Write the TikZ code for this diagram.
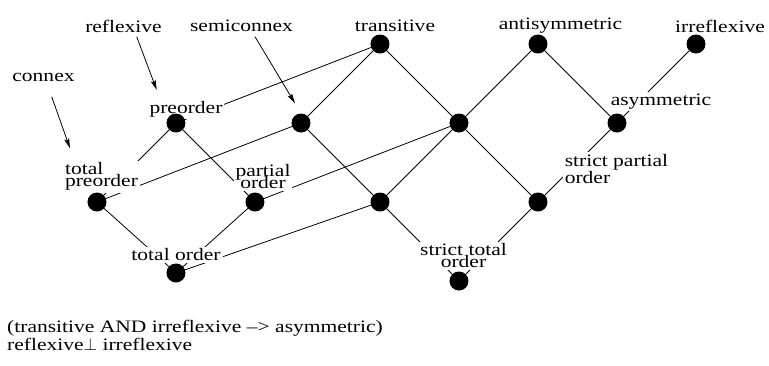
\documentclass[tikz,border=0pt]{standalone}
\usepackage{fontspec}
\setmainfont{Liberation Serif}[FakeStretch=1.23]
\usetikzlibrary{positioning,arrows.meta}
\pgfdeclarelayer{edges}
\pgfdeclarelayer{words}
\pgfsetlayers{edges,words,main}
\lineskiplimit=-20pt

\begin{document}
\begin{tikzpicture}[node distance=79pt and 79pt,on grid,
    dot/.style={circle,fill=black,inner sep=0pt,minimum size=19pt},
    prop/.style={inner sep=0pt,anchor=base,font=\fontsize{17.5}{20}\selectfont},
    lbl/.style={fill=white,inner sep=2pt,anchor=base,align=center,
      font=\fontsize{17.5}{12}\selectfont},
    pointer/.style={-{Stealth[length=10pt,width=5pt,inset=2pt]},line width=0.8pt}]
   \useasboundingbox (-380pt,44pt) rectangle (389pt,-321pt);

   % the lattice
   \node[dot] (trans) {};
   \node[dot] (anti)  [right=158pt of trans] {};
   \node[dot] (irr)   [right=158pt of anti]  {};
   \node[dot] (semi)  [below left=of trans]  {};
   \node[dot] (ta)    [below right=of trans] {};
   \node[dot] (asym)  [below right=of anti]  {};
   \node[dot] (pre)   [left=125pt of semi]   {};
   \node[dot] (tp)    [below left=of pre]    {};
   \node[dot] (po)    [below right=of pre]   {};
   \node[dot] (sta)   [below right=of semi]  {};
   \node[dot] (spo)   [below right=of ta]    {};
   \node[dot] (to)    [below=150pt of pre]   {};
   \node[dot] (sto)   [below=158pt of ta]    {};

   % properties on top
   \node[prop] (transitive)    [above right=18pt and 15pt of trans]   {transitive};
   \node[prop] (antisym)       [above right=18pt and 22.5pt of anti]  {antisymmetric};
   \node[prop] (irreflexive)   [above right=18pt and 24pt of irr]     {irreflexive};
   \node[prop] (semiconnex)    [above left=97pt and 59.5pt of semi]   {semiconnex};
   \node[prop] (reflexive)     [above left=97pt and 52.5pt of pre]    {reflexive};
   \node[prop] (connex)        [above left=125pt and 53.5pt of tp]    {connex};

   \begin{pgfonlayer}{words}
   \node[lbl] (preorder)    [above right=14pt and 10pt of pre]     {preorder};
   \node[lbl] (asymmetric)  [above right=21.3pt and 44pt of asym]  {asymmetric};
   \node[lbl,align=left] (totalpre) [above right=25.3pt and 4.5pt of tp] {total\\preorder};
   \node[lbl] (partial)     [above right=25.3pt and 8pt of po]     {partial\\order};
   \node[lbl] (totalorder)  [above=18pt of to]                     {total order};
   \node[lbl,align=left,font=\fontsize{17.5}{17.7}\selectfont] (strictpartial)
      [above right=33pt and 78.5pt of spo] {strict partial\\order};
   \node[lbl] (stricttotal) [above right=25.3pt and 4.5pt of sto]  {strict total\\order};
   \end{pgfonlayer}

   \node[prop,align=left,font=\fontsize{17.5}{17.6}\selectfont] (note)
      [below right=62.7pt and 19pt of to]
      {(transitive AND irreflexive –> asymmetric)\\reflexive$\perp$ irreflexive};

   % pointers
   \coordinate[above left=86.3pt and 39.3pt of pre] (refA);
   \coordinate[above left=33pt and 19.3pt of pre] (refB);
   \coordinate[above left=86.3pt and 46pt of semi] (semA);
   \coordinate[above left=19.7pt and 6pt of semi] (semB);
   \coordinate[above left=105.3pt and 45.3pt of tp] (conA);
   \coordinate[above left=53.7pt and 27pt of tp] (conB);
   \draw[pointer] (refA) -- (refB);
   \draw[pointer] (semA) -- (semB);
   \draw[pointer] (conA) -- (conB);

   \begin{pgfonlayer}{edges}
   \path[line width=0.8pt]
    (trans) edge (pre) edge (semi) edge (ta)
    (anti)  edge (ta) edge (asym)
    (irr)   edge (asym)
    (pre)   edge (tp) edge (po)
    (semi)  edge (tp) edge (sta)
    (ta)    edge (po) edge (sta) edge (spo)
    (asym)  edge (spo)
    (to)    edge (tp) edge (po) edge (sta)
    (sto)   edge (sta) edge (spo);
   \end{pgfonlayer}
\end{tikzpicture}
\end{document}
